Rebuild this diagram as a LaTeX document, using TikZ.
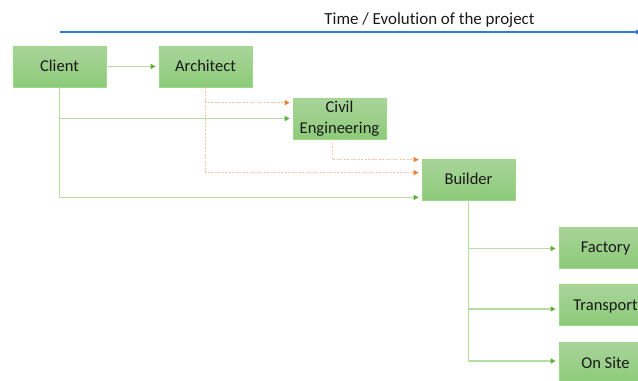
\documentclass[tikz,border=0pt]{standalone}
\usepackage{fontspec}
\setmainfont{Carlito}[Ligatures=NoCommon]
\usetikzlibrary{arrows.meta,positioning}

\definecolor{boxtop}{HTML}{A9D49A}
\definecolor{boxbot}{HTML}{8CCB78}
\definecolor{boxedge}{HTML}{9ED68C}
\definecolor{linkgreen}{HTML}{B5DCA3}
\definecolor{tipgreen}{HTML}{5BAE3A}
\definecolor{linkorange}{HTML}{F8C3A0}
\definecolor{tiporange}{HTML}{F07C2E}
\definecolor{timeblue}{HTML}{2E7BD6}

\tikzset{
  stagebox/.style={rectangle, draw=boxedge, line width=0.8bp,
    top color=boxtop, bottom color=boxbot,
    minimum width=93bp, minimum height=41bp, inner sep=0pt,
    align=center, text=black!90,
    font=\fontsize{16.6}{21}\selectfont},
  oneline/.style={text height=10.7bp, text depth=0bp},
  flow/.style={draw=linkgreen, line width=1.3bp,
    -{Triangle[length=5bp,width=5bp,color=tipgreen]}, shorten >=3bp},
  advice/.style={draw=linkorange, line width=1bp, dash pattern=on 2bp off 1.5bp,
    -{Triangle[length=5bp,width=5bp,color=tiporange]}, shorten >=3bp},
}

\begin{document}
\begin{tikzpicture}[x=1bp,y=-1bp]
  \useasboundingbox (0,0) rectangle (638,380);
  \clip (0,0) rectangle (638,380);

  % time axis
  \node[font=\fontsize{17}{20}\selectfont, text=black!90, anchor=base, inner sep=0pt]
    (title) at (429.5,24) {Time / Evolution of the project};
  \coordinate (t0) at (60,32);
  \coordinate (t1) at (640,32);
  \draw[timeblue, line width=1.4bp, -{Triangle[length=4bp,width=5bp]}] (t0) -- (t1);

  % stages
  \node[stagebox, oneline] (client)    at (59.5,66.5)   {Client};
  \node[stagebox, oneline] (arch)      at (205.5,66.5)  {Architect};
  \node[stagebox]          (civil)     at (339.5,118.5) {Civil\\Engineering};
  \node[stagebox, oneline] (builder)   at (468.5,179.5) {Builder};
  \node[stagebox, oneline] (factory)   at (605.5,247.5) {Factory};
  \node[stagebox, oneline] (transport) at (605.5,305)   {Transport};
  \node[stagebox, oneline] (onsite)    at (605.5,363)   {On Site};

  % client links
  \draw[flow] (client.east) -- (arch.west);
  \draw[flow] (client.south) |- (civil.west);
  \draw[flow] (client.south) |- ([yshift=3bp]builder.south west);

  % design advice
  \draw[advice] (arch.south) |- ([yshift=-5bp]civil.north west);
  \draw[advice] (arch.south) |- ([yshift=-14bp]builder.north west);
  \draw[advice] ([xshift=-7bp]civil.south) |- ([yshift=-1bp]builder.north west);

  % builder links
  \draw[flow] (builder.south) |- ([yshift=-1bp]factory.west);
  \draw[flow] (builder.south) |- ([yshift=-4bp]transport.west);
  \draw[flow] (builder.south) |- ([yshift=2bp]onsite.west);
\end{tikzpicture}
\end{document}
